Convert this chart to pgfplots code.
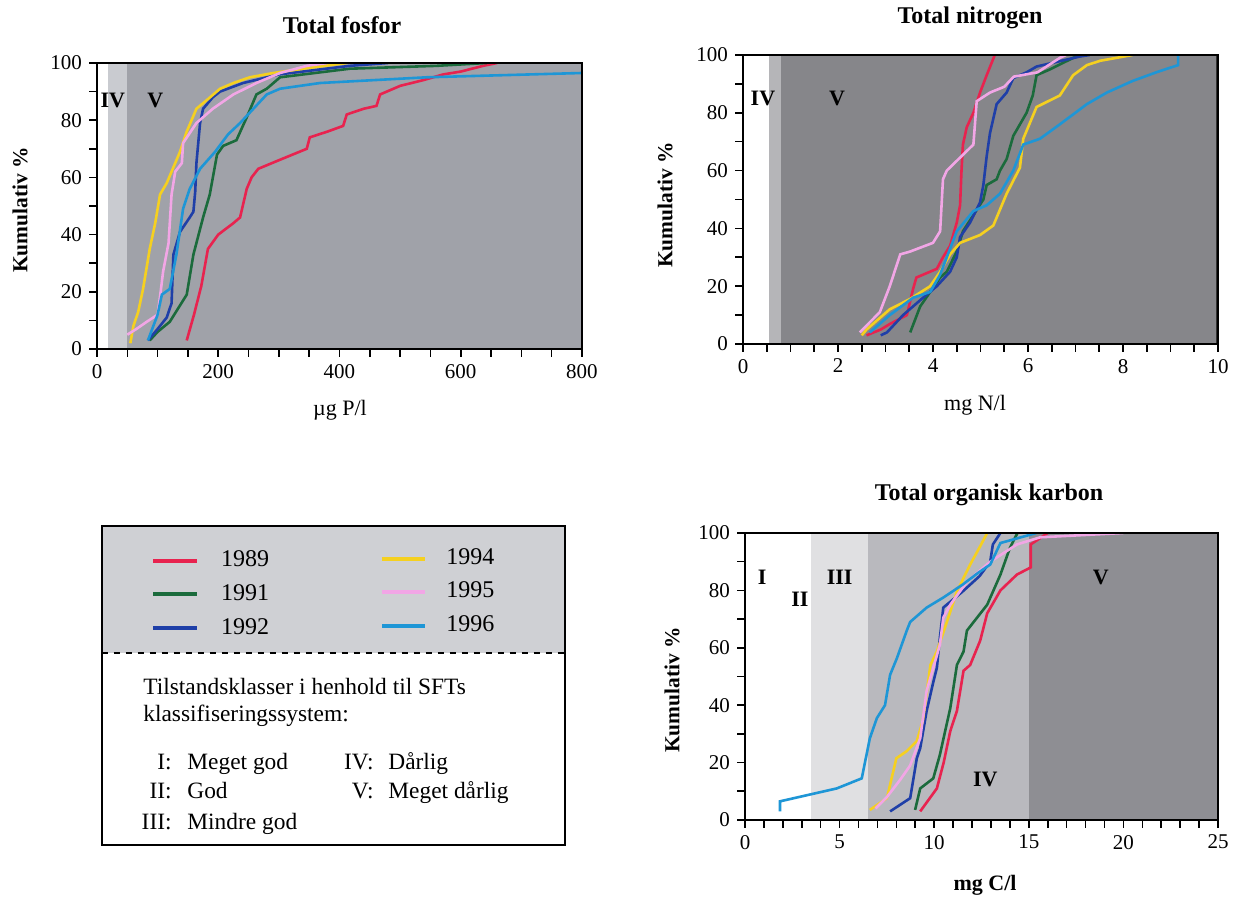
\documentclass[border=0pt]{standalone}
\usepackage{fontspec}
\setmainfont{Liberation Serif}
\usepackage{pgfplots}
\pgfplotsset{compat=1.18}
\definecolor{c89}{HTML}{E8234F}
\definecolor{c91}{HTML}{1B6B3C}
\definecolor{c92}{HTML}{1F3FA8}
\definecolor{c94}{HTML}{F5D020}
\definecolor{c95}{HTML}{F2A6E6}
\definecolor{c96}{HTML}{1E96D6}
\definecolor{pAiv}{HTML}{C9CBD0}
\definecolor{pAv}{HTML}{A0A2A9}
\definecolor{pBiv}{HTML}{B5B5B8}
\definecolor{pBv}{HTML}{86868A}
\definecolor{pCiii}{HTML}{E0E0E2}
\definecolor{pCiv}{HTML}{B9B9BE}
\definecolor{pCv}{HTML}{8E8E93}
\definecolor{legbg}{HTML}{CFD0D4}
\pgfplotsset{
  myax/.style={scale only axis, axis on top, ymin=0, ymax=100,
    ytick={0,20,...,100}, minor y tick num=1, tick align=outside,
    xtick pos=bottom, ytick pos=left, major tick length=4pt, minor tick length=4pt,
    tick style={black, line width=0.8pt}, axis line style={line width=0.9pt},
    ticklabel style={font=\fontsize{10.5}{12}\selectfont},
    /pgf/number format/assume math mode=true,
    every axis plot/.append style={line width=1.3pt, mark=none}}
}
\tikzset{zl/.style={font=\bfseries\fontsize{11}{13}\selectfont}}
\begin{document}
\begin{tikzpicture}
\path[use as bounding box] (0,0) rectangle (621pt,449pt);
% ---------- Total fosfor ----------
\begin{axis}[myax, at={(48.5pt,274.5pt)}, anchor=south west, width=242.5pt, height=143pt,
  xmin=0, xmax=800, xtick={0,200,...,800}, minor x tick num=3]
\addplot[fill=white, draw=none] coordinates {(0,0)(0,100)(18,100)(18,0)} -- cycle;
\addplot[fill=pAiv, draw=none] coordinates {(18,0)(18,100)(50,100)(50,0)} -- cycle;
\addplot[fill=pAv, draw=none] coordinates {(50,0)(50,100)(800,100)(800,0)} -- cycle;
\addplot[c89] coordinates {(148,3)(160,12)(172,22)(183,35)(200,40)(225,44)(236,46)(247,56)(255,60)(266,63)(300,66)(346,70)(351,74)(380,76)(406,78)(412,82)(440,84)(461,85)(467,89)(500,92)(538,94)(571,96)(600,97)(637,99)(660,100)};
\addplot[c91] coordinates {(87,3)(100,6)(120,9.5)(148,19)(159,33)(175,46)(186,54)(198,68)(208,71)(230,73)(247,81)(263,89)(280,91)(302,95)(417,98)(560,99)(643,100)};
\addplot[c92] coordinates {(84,3)(100,7)(115,11)(123,16)(126,33)(137,41)(153,46)(159,48)(162,55)(164,65)(170,79)(175,84)(191,88)(203,90)(241,93)(300,96)(417,99)(480,100)};
\addplot[c94] coordinates {(55,2)(60,8)(68,13)(76,21)(87,35)(96,44)(104,54)(115,58)(129,65)(137,69)(148,76)(164,84)(181,87)(203,91)(225,93)(252,95)(291,96.5)(340,98)(412,100)};
\addplot[c95] coordinates {(50,5)(65,7)(82,9.5)(100,12)(105,20)(109,27)(118,37)(123,54)(129,62)(140,65)(142,72)(164,79)(191,84)(225,89)(263,93)(302,96.5)(346,99)(380,100)};
\addplot[c96] coordinates {(84,3)(100,12)(107,19)(120,21)(131,33)(142,49)(153,56)(170,63)(195,69)(216,75)(236,79)(258,84)(280,89)(302,91)(368,93)(544,95)(800,96.5)};
\node[zl] at (axis cs:26,87) {IV};
\node[zl] at (axis cs:96,87) {V};
\end{axis}
% ---------- Total nitrogen ----------
\begin{axis}[myax, at={(371.5pt,277pt)}, anchor=south west, width=237.5pt, height=144.5pt,
  xmin=0, xmax=10, xtick={0,2,...,10}, minor x tick num=3]
\addplot[fill=white, draw=none] coordinates {(0,0)(0,100)(0.55,100)(0.55,0)} -- cycle;
\addplot[fill=pBiv, draw=none] coordinates {(0.55,0)(0.55,100)(0.8,100)(0.8,0)} -- cycle;
\addplot[fill=pBv, draw=none] coordinates {(0.8,0)(0.8,100)(10,100)(10,0)} -- cycle;
\addplot[c89] coordinates {(2.6,3)(2.9,5)(3.1,7)(3.45,10)(3.58,19)(3.65,23)(4.08,26)(4.21,30)(4.36,34)(4.5,42)(4.57,48)(4.6,60)(4.63,69)(4.71,75)(4.85,80)(4.99,87)(5.13,93)(5.3,100)};
\addplot[c91] coordinates {(3.52,4)(3.73,13)(3.94,18)(4.15,23)(4.29,25)(4.5,32)(4.63,39)(4.85,44.6)(5.06,50)(5.13,55)(5.34,57)(5.41,60)(5.55,64)(5.69,72)(5.97,80)(6.1,86)(6.18,93)(6.46,95)(6.95,99)(7.1,100)};
\addplot[c92] coordinates {(2.9,3)(3.03,4)(3.37,10)(3.79,16)(4.08,20)(4.36,25)(4.5,30)(4.57,37)(4.78,42)(4.99,49)(5.06,55)(5.13,65)(5.2,73)(5.34,83)(5.55,87)(5.69,92)(5.97,94)(6.18,96)(7.1,99.5)(7.3,100)};
\addplot[c94] coordinates {(2.5,3)(2.6,5)(3.09,12)(3.52,15.6)(3.94,20)(4.15,25)(4.36,31)(4.57,35)(4.99,37.7)(5.27,41)(5.55,52)(5.83,61)(5.9,71)(6.18,82)(6.67,86)(6.95,93)(7.24,96.5)(7.52,98)(8.2,100)};
\addplot[c95] coordinates {(2.46,4)(2.7,8)(2.88,11)(3.09,20)(3.31,31)(3.52,32)(4.0,35)(4.15,39)(4.21,57)(4.29,60)(4.85,69)(4.92,84)(5.2,87)(5.5,89)(5.7,92.5)(6.2,94)(6.67,99)(6.8,100)};
\addplot[c96] coordinates {(2.67,4)(3.09,10)(3.58,16)(3.94,18)(4.15,24)(4.5,39)(4.85,46)(5.13,48)(5.41,52)(5.69,60)(5.9,69)(6.25,71)(6.67,76)(7.24,83)(7.66,87)(8.2,91)(8.7,94)(9.16,96.5)(9.16,100)};
\node[zl] at (axis cs:0.42,85) {IV};
\node[zl] at (axis cs:1.98,85) {V};
\draw[line width=2.4pt, black!80] (rel axis cs:1,0) -- (rel axis cs:1,1);
\end{axis}
% ---------- Total organisk karbon ----------
\begin{axis}[myax, at={(372.5pt,39pt)}, anchor=south west, width=236.5pt, height=143.5pt,
  xmin=0, xmax=25, xtick={0,5,...,25}, minor x tick num=4]
\addplot[fill=white, draw=none] coordinates {(0,0)(0,100)(3.5,100)(3.5,0)} -- cycle;
\addplot[fill=pCiii, draw=none] coordinates {(3.5,0)(3.5,100)(6.5,100)(6.5,0)} -- cycle;
\addplot[fill=pCiv, draw=none] coordinates {(6.5,0)(6.5,100)(15,100)(15,0)} -- cycle;
\addplot[fill=pCv, draw=none] coordinates {(15,0)(15,100)(25,100)(25,0)} -- cycle;
\addplot[c89] coordinates {(9.26,3)(10.14,11)(10.5,20)(10.85,31)(11.2,38)(11.55,52)(11.9,54)(12.43,62.5)(12.8,72)(13.5,80)(14.37,85.5)(15.1,88)(15.1,96)(16,100)};
\addplot[c91] coordinates {(8.99,3.5)(9.26,11)(9.95,14.5)(10.3,22.7)(10.85,39)(11.2,54)(11.55,58.7)(11.73,66)(12.8,75)(13.5,85.5)(14.0,94.8)(14.4,100)};
\addplot[c92] coordinates {(7.67,3)(8.73,7.6)(9.08,21.5)(9.26,25)(9.6,38)(9.95,48)(10.14,53)(10.3,63.5)(10.48,74)(11.5,79.6)(12.4,85)(12.96,90)(13.1,96)(13.5,100)};
\addplot[c94] coordinates {(6.6,3.5)(7.5,7.6)(8.0,21.5)(8.55,24)(9.08,27.5)(9.4,34.6)(9.8,54)(10.14,58.7)(10.67,69)(11.2,79.6)(11.9,89)(12.4,95)(12.8,100)};
\addplot[c95] coordinates {(6.9,4)(7.5,8)(8.2,14)(8.73,19)(9.26,28.5)(9.6,45)(10.3,61)(10.48,70.5)(10.85,75)(11.73,83)(12.96,90)(14.37,96)(15.6,98.5)(20,100)};
\addplot[c96] coordinates {(1.85,3)(1.85,6.5)(4.85,11)(6.17,14.5)(6.6,28.5)(6.97,35.5)(7.4,40)(7.67,50.6)(8.03,56.4)(8.55,66)(8.73,69)(9.6,74)(10.48,77.5)(11.5,82)(12.3,86)(12.96,89)(13.5,96.5)(15.4,100)};
\node[zl] at (axis cs:0.9,84.5) {I};
\node[zl] at (axis cs:2.9,77) {II};
\node[zl] at (axis cs:5.0,84.5) {III};
\node[zl] at (axis cs:12.7,14) {IV};
\node[zl] at (axis cs:18.8,84.5) {V};
\end{axis}
% ---------- titles and labels ----------
\node[font=\bfseries\fontsize{12}{14}\selectfont] at (171pt,436.5pt) {Total fosfor};
\node[font=\bfseries\fontsize{12}{14}\selectfont] at (485pt,440pt) {Total nitrogen};
\node[font=\bfseries\fontsize{12}{14}\selectfont] at (494.5pt,201.5pt) {Total organisk karbon};
\node[font=\bfseries\fontsize{10.7}{12}\selectfont, rotate=90] at (10pt,344pt) {Kumulativ \%};
\node[font=\bfseries\fontsize{10.7}{12}\selectfont, rotate=90] at (332.5pt,346.5pt) {Kumulativ \%};
\node[font=\bfseries\fontsize{10.7}{12}\selectfont, rotate=90] at (336pt,104pt) {Kumulativ \%};
\node[font=\fontsize{11}{13}\selectfont] at (170pt,244pt) {µg P/l};
\node[font=\fontsize{11}{13}\selectfont] at (487.5pt,246.5pt) {mg N/l};
\node[font=\bfseries\fontsize{11}{13}\selectfont] at (492.5pt,6.5pt) {mg C/l};
% ---------- legend box ----------
\fill[legbg] (50.8pt,122.5pt) rectangle (282.5pt,186pt);
\draw[dashed, line width=0.6pt] (50.8pt,122.5pt) -- (282.5pt,122.5pt);
\draw[line width=0.9pt] (50.8pt,26.5pt) rectangle (282.5pt,186pt);
\begin{scope}[line width=2pt]
\draw[c89] (76.5pt,168.7pt) -- (98.5pt,168.7pt);
\draw[c91] (76.5pt,152pt) -- (98.5pt,152pt);
\draw[c92] (76.5pt,135pt) -- (98.5pt,135pt);
\draw[c94] (191pt,169.5pt) -- (212.5pt,169.5pt);
\draw[c95] (191pt,153pt) -- (212.5pt,153pt);
\draw[c96] (191pt,136pt) -- (212.5pt,136pt);
\end{scope}
\begin{scope}[every node/.style={font=\fontsize{12}{14}\selectfont, anchor=base west, inner sep=0pt}]
\node at (110.3pt,165.7pt) {1989};
\node at (110.3pt,148.5pt) {1991};
\node at (110.3pt,131.5pt) {1992};
\node at (223pt,166.5pt) {1994};
\node at (223pt,150pt) {1995};
\node at (223pt,133pt) {1996};
\end{scope}
\begin{scope}[every node/.style={font=\fontsize{11.7}{13}\selectfont, inner sep=0pt}]
\node[anchor=base west] at (71.5pt,101.5pt) {Tilstandsklasser i henhold til SFTs};
\node[anchor=base west] at (71.5pt,88pt) {klassifiseringssystem:};
\node[anchor=base east] at (86pt,64pt) {I:};
\node[anchor=base west] at (93.5pt,64pt) {Meget god};
\node[anchor=base east] at (86pt,49.5pt) {II:};
\node[anchor=base west] at (93.5pt,49.5pt) {God};
\node[anchor=base east] at (86pt,34pt) {III:};
\node[anchor=base west] at (93.5pt,34pt) {Mindre god};
\node[anchor=base east] at (187pt,64pt) {IV:};
\node[anchor=base west] at (194pt,64pt) {Dårlig};
\node[anchor=base east] at (187pt,49.5pt) {V:};
\node[anchor=base west] at (194pt,49.5pt) {Meget dårlig};
\end{scope}
\end{tikzpicture}
\end{document}
